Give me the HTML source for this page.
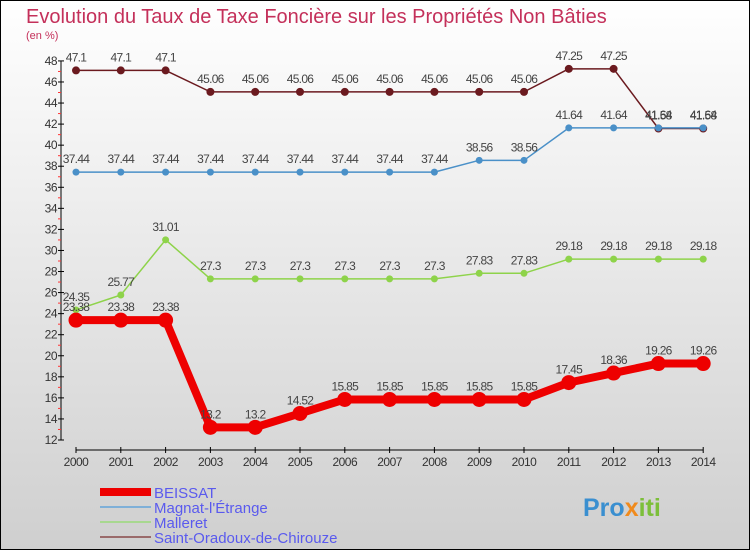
<!DOCTYPE html>
<html><head><meta charset="utf-8"><style>
body{margin:0}
#c{width:750px;height:550px;position:relative;font-family:"Liberation Sans",sans-serif}
</style></head><body>
<div id="c">
<svg id="s" width="750" height="550" xmlns="http://www.w3.org/2000/svg">
<defs><linearGradient id="bg" x1="0" y1="0" x2="0" y2="1"><stop offset="0" stop-color="#ffffff"/><stop offset="1" stop-color="#cfcfcf"/></linearGradient></defs>
<rect x="0.5" y="0.5" width="749" height="549" fill="url(#bg)" stroke="#000"/>
<text x="26" y="23" font-size="20" fill="#c4305a">Evolution du Taux de Taxe Foncière sur les Propriétés Non Bâties</text>
<text x="26" y="39" font-size="11" fill="#c4305a">(en %)</text>
<g id="axes"></g><g id="series"></g><g id="legend"></g>
<text x="583" y="516" font-size="25" font-weight="bold" fill="#3a8fd0">Pro<tspan fill="#f08a1c">x</tspan><tspan fill="#7cbf3a">iti</tspan></text>
</svg>
</div>
<script>
const years=["2000","2001","2002","2003","2004","2005","2006","2007","2008","2009","2010","2011","2012","2013","2014"];
const yTicks=[12,14,16,18,20,22,24,26,28,30,32,34,36,38,40,42,44,46,48];
const beissat=[23.38,23.38,23.38,13.2,13.2,14.52,15.85,15.85,15.85,15.85,15.85,17.45,18.36,19.26,19.26];
const magnat=[37.44,37.44,37.44,37.44,37.44,37.44,37.44,37.44,37.44,38.56,38.56,41.64,41.64,41.64,41.64];
const malleret=[24.35,25.77,31.01,27.3,27.3,27.3,27.3,27.3,27.3,27.83,27.83,29.18,29.18,29.18,29.18];
const saint=[47.1,47.1,47.1,45.06,45.06,45.06,45.06,45.06,45.06,45.06,45.06,47.25,47.25,41.58,41.58];
const NS="http://www.w3.org/2000/svg";
const X=i=>76+i*44.8, Y=v=>440-(v-12)*10.53;
function mk(t,a,p){const e=document.createElementNS(NS,t);for(const k in a)e.setAttribute(k,a[k]);p.appendChild(e);return e;}
const ax=document.getElementById('axes');
let e=mk('line',{x1:61,y1:Y(48),x2:61,y2:440,stroke:'#000'},ax);


e=mk('line',{x1:76,y1:450,x2:X(14),y2:450,stroke:'#000'},ax);


yTicks.forEach(v=>{mk('line',{x1:58,x2:64,y1:Y(v),y2:Y(v),stroke:'#000'},ax);
 if(v<48)mk('line',{x1:58,x2:61,y1:Y(v+1),y2:Y(v+1),stroke:'#f33'},ax);
 const t=mk('text',{x:57,y:Y(v)+4,'font-size':12,fill:'#333','text-anchor':'end','letter-spacing':'-0.5'},ax);t.textContent=v;
 
 });
years.forEach((y,i)=>{mk('line',{x1:X(i),x2:X(i),y1:447,y2:453,stroke:'#000'},ax);
 const t=mk('text',{x:X(i),y:466,'font-size':12,fill:'#333','text-anchor':'middle','letter-spacing':'-0.5'},ax);t.textContent=y;
 
 });
const sg=document.getElementById('series');
function draw(d,col,w,r,name){
 const g=mk('g',{},sg);
 
 
 mk('polyline',{points:d.map((v,i)=>X(i)+','+Y(v)).join(' '),fill:'none',stroke:col,'stroke-width':w,'stroke-linejoin':'round'},g);
 d.forEach((v,i)=>{const c=mk('circle',{cx:X(i),cy:Y(v),r:r,fill:col},g);
  
  
  const t=mk('text',{x:X(i),y:Y(v)-9,'font-size':12,fill:'#444','text-anchor':'middle','letter-spacing':'-0.7'},g);t.textContent=v;
  
  });
}
draw(saint,'#6b1a1f',1.5,4,'saint-oradoux');
draw(magnat,'#4a90c8',1.5,3.5,'magnat');
draw(malleret,'#8ed34a',1.5,3.5,'malleret');
draw(beissat,'#ee0000',8,7.5,'beissat');
const lg=document.getElementById('legend');
const leg=[['BEISSAT','#ee0000',8],["Magnat-l'Étrange",'#7fb0d8',2],['Malleret','#a8d890',2],['Saint-Oradoux-de-Chirouze','#9a6a6a',2]];
leg.forEach((l,i)=>{const y=492+i*15;
 const g=mk('g',{},lg);
 
 
 mk('line',{x1:100,x2:151,y1:y,y2:y,stroke:l[1],'stroke-width':l[2]},g);
 const t=mk('text',{x:154,y:y+6,'font-size':15,fill:'#5a5aee'},g);t.textContent=l[0];});
</script>
</body></html>
